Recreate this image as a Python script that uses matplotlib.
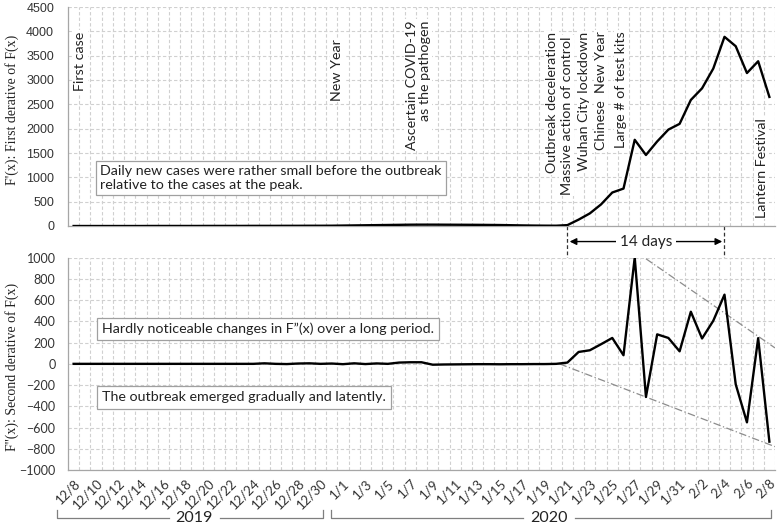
import matplotlib.pyplot as plt
import numpy as np

# ---------------------------- data ---------------------------- #
dates = (["12/%d" % d for d in range(8, 32)]
         + ["1/%d" % d for d in range(1, 32)]
         + ["2/%d" % d for d in range(1, 9)])

# F'(x): daily new cases, 12/8/2019 .. 2/8/2020
first_deriv = [
    0, 0, 0, 0, 0, 0, 0, 1, 1, 1, 1, 1, 2, 2, 2, 2, 3, 3, 3, 4, 4, 5, 5, 6,
    9, 12, 15, 18, 21, 24, 27, 28, 28, 27, 26, 25, 24, 22, 20, 16, 12, 9, 7, 6,
    18,
    131, 259, 444, 688, 769, 1771, 1459, 1737, 1981, 2099,
    2590, 2829, 3235, 3887, 3694, 3143, 3385, 2652,
]

# F''(x)
second_deriv = [
    0, 0, 0, 0, 0, 0, 0, 0, 0, 0, 0, 0, 0, 0, 0, 0, 0, 5, 0, -2, 3, 5, 0, 3,
    -3, 5, -2, 4, 0, 12, 15, 15, -8, -6, -5, -4, -3, -3, -4, -3, -3, -2, -2, 0,
    12,
    112, 128, 185, 244, 81, 1002, -312, 278, 244, 118,
    491, 239, 406, 652, -193, -551, 242, -733,
]

# event labels (category index, text)
events = [
    (0.6, "First case"),
    (23.5, "New Year"),
    (30.7, "Ascertain COVID-19\nas the pathogen"),
    (42.6, "Outbreak deceleration"),
    (43.95, "Massive action of control"),
    (45.5, "Wuhan City lockdown"),
    (47.0, "Chinese  New Year"),
    (48.8, "Large # of test kits"),
    (61.3, "Lantern Festival"),
]
event_top = [3990, 3840, 4230, 3980, 3900, 3980, 4000, 4000, 2220]

# trend envelopes on F''(x)
upper_trend_x = [51, 62.5]
upper_trend_y = [990, 150]
lower_trend_x = [43.3, 62.5]
lower_trend_y = [0, -780]

outbreak_start = 44   # 1/21
peak_day = 58         # 2/4

# ---------------------------- plot ---------------------------- #
W, H = 778, 526
fig = plt.figure(figsize=(W / 100, H / 100), dpi=100)

ax1 = fig.add_axes([68 / W, 1 - 226 / H, 707 / W, 219 / H])
ax2 = fig.add_axes([68 / W, 1 - 470 / H, 707 / W, 212.3 / H])

x = np.arange(len(dates))
grid_kw = dict(color="#d0d0d0", linestyle=(0, (3, 2)), linewidth=0.8)
spine_col = "#a6a6a6"

for ax in (ax1, ax2):
    ax.set_xlim(-0.5, len(dates) - 0.5)
    ax.set_xticks(x[::2])
    ax.set_xticks(np.arange(-0.5, len(dates), 1.0), minor=True)
    ax.grid(False)
    ax.grid(True, which="minor", axis="x", **grid_kw)
    ax.grid(True, which="major", axis="y", **grid_kw)
    ax.set_axisbelow(True)
    ax.tick_params(which="both", length=0)
    for s in ("top", "right"):
        ax.spines[s].set_visible(False)
    for s in ("left", "bottom"):
        ax.spines[s].set_color(spine_col)
        ax.spines[s].set_linewidth(0.9)

# top panel
ax1.plot(x, first_deriv, color="black", linewidth=1.7, zorder=3)
ax1.set_ylim(0, 4500)
ax1.set_yticks(np.arange(0, 4501, 500))
ax1.set_xticklabels([])
for lab in ax1.get_yticklabels():
    lab.set_fontfamily("Liberation Sans")
    lab.set_fontsize(9)
ax1.tick_params(axis="y", pad=10, labelcolor="#333333")
fig.text(12 / W, 1 - 110 / H, "F'(x): First derative of F(x)",
         family="Liberation Serif", fontsize=10, rotation=90,
         ha="center", va="center", color="#222222")

ann_kw = dict(family="Lato", fontsize=10.3, color="#222222")
for (xi, txt), top in zip(events, event_top):
    ax1.text(xi, top, txt, rotation=90, ha="center", va="top",
             multialignment="right", zorder=4, linespacing=1.1,
             bbox=dict(facecolor="white", edgecolor="none", pad=1.0), **ann_kw)

ax1.text(2.35, 986,
         "Daily new cases were rather small before the outbreak\n"
         "relative to the cases at the peak.",
         ha="left", va="center", zorder=4, linespacing=1.15,
         bbox=dict(facecolor="white", edgecolor="#a0a0a0", linewidth=0.9,
                   boxstyle="square,pad=0.3"), **ann_kw)

# 14 days marker between panels
bt = ax1.get_xaxis_transform()
for xi in (outbreak_start, peak_day):
    ax1.plot([xi, xi], [0, -0.145], transform=bt, clip_on=False,
             color="#333333", linewidth=0.9, linestyle=(0, (3, 2)))
ax1.annotate("", xy=(outbreak_start + 0.2, -0.071), xytext=(peak_day - 0.2, -0.071),
             xycoords=bt, textcoords=bt,
             arrowprops=dict(arrowstyle="<|-|>", color="black", linewidth=1.0,
                             mutation_scale=10, shrinkA=0, shrinkB=0))
ax1.text((outbreak_start + peak_day) / 2, -0.071, "14 days", transform=bt,
         ha="center", va="center", family="Lato", fontsize=11, color="#222222",
         bbox=dict(facecolor="white", edgecolor="none", pad=2.5), zorder=5)

# bottom panel
ax2.plot(x, second_deriv, color="black", linewidth=1.7, zorder=3)
ax2.plot(upper_trend_x, upper_trend_y, color="#8c8c8c", linewidth=0.9,
         linestyle=(0, (6, 2, 1, 2)), zorder=2)
ax2.plot(lower_trend_x, lower_trend_y, color="#8c8c8c", linewidth=0.9,
         linestyle=(0, (6, 2, 1, 2)), zorder=2)
ax2.set_ylim(-1000, 1000)
ax2.set_yticks(np.arange(-1000, 1001, 200))
for lab in ax2.get_yticklabels():
    lab.set_fontfamily("Lato")
    lab.set_fontsize(9)
ax2.tick_params(axis="y", pad=9, labelcolor="#333333")
fig.text(12 / W, 1 - 367 / H, "F''(x): Second derative of F(x)",
         family="Liberation Serif", fontsize=10, rotation=90,
         ha="center", va="center", color="#222222")

ax2.set_xticklabels(dates[::2], rotation=45, ha="right", rotation_mode="anchor",
                    family="Lato", fontsize=9.5, color="#333333")
ax2.tick_params(axis="x", pad=5)

box_kw = dict(facecolor="white", edgecolor="#a0a0a0", linewidth=0.9,
              boxstyle="square,pad=0.35")
ax2.text(2.55, 327, "Hardly noticeable changes in F\u201d(x) over a long period.",
         ha="left", va="center", zorder=4, bbox=box_kw, **ann_kw)
ax2.text(2.55, -317, "The outbreak emerged gradually and latently.",
         ha="left", va="center", zorder=4, bbox=box_kw, **ann_kw)

# year brackets
bx = ax2.get_xaxis_transform()
y_lo, y_hi = -0.226, -0.188
for (x0, x1, year, g0, g1) in [(-1.5, 22.2, "2019", 8.5, 13.0),
                               (22.9, 62.1, "2020", 40.0, 44.7)]:
    ax2.plot([x0, x0, g0], [y_hi, y_lo, y_lo], transform=bx, clip_on=False,
             color="#7f7f7f", linewidth=0.9)
    ax2.plot([g1, x1, x1], [y_lo, y_lo, y_hi], transform=bx, clip_on=False,
             color="#7f7f7f", linewidth=0.9)
    ax2.text((g0 + g1) / 2, y_lo, year, transform=bx, ha="center", va="center",
             family="Lato", fontsize=11.5, color="#222222")

fig.savefig("out.png", dpi=100)
